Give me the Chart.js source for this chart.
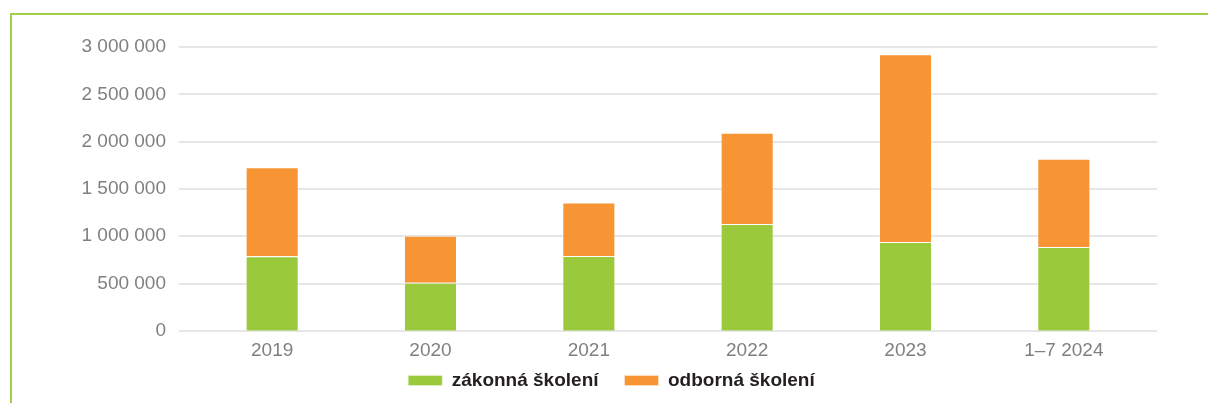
<!DOCTYPE html>
<html>
<head>
<meta charset="utf-8">
<script src="https://cdn.jsdelivr.net/npm/chart.js@4"></script>
<style>
  html, body { margin: 0; padding: 0; background: #fff; }
  #wrap { position: relative; width: 1208px; height: 403px; overflow: hidden; }
  #frame { position: absolute; left: 10px; top: 13px; right: -10px; bottom: -10px;
           border-top: 2px solid #a3d04b; border-left: 2px solid #a3d04b; }
  canvas { position: absolute; left: 0; top: 0; }
</style>
</head>
<body>
<div id="wrap">
  <div id="frame"></div>
  <canvas id="myChart" width="1208" height="403"></canvas>
</div>
<script>
var categories = ["2019", "2020", "2021", "2022", "2023", "1\u20137 2024"];
var zakonna = [787000, 508000, 790000, 1129000, 939000, 886000];
var odborna = [943000, 498000, 566000, 964000, 1985000, 932000];
var yTicks = [0, 500000, 1000000, 1500000, 2000000, 2500000, 3000000];

function spaced(v) {
    return String(v).replace(/\B(?=(\d{3})+(?!\d))/g, " ");
}

// horizontal gridlines a bit wider than the plot, like the original
var gridLines = {
    id: "gridLines",
    beforeDatasetsDraw: function(chart) {
        var ctx = chart.ctx, area = chart.chartArea, y = chart.scales.y;
        ctx.save();
        ctx.strokeStyle = "#dedede";
        ctx.lineWidth = 1.5;
        yTicks.forEach(function(v) {
            var py = Math.round(y.getPixelForValue(v));
            ctx.beginPath();
            ctx.moveTo(area.left - 14, py);
            ctx.lineTo(area.right + 14, py);
            ctx.stroke();
        });
        ctx.restore();
    }
};

var ctx = document.getElementById("myChart").getContext("2d");
var chart = new Chart(ctx, {
    type: "bar",
    data: {
        labels: categories,
        datasets: [{
            label: "zákonná školení",
            data: zakonna,
            backgroundColor: "#9aca3c",
            borderColor: "rgba(255,255,255,0.35)",
            borderWidth: 1
        }, {
            label: "odborná školení",
            data: odborna,
            backgroundColor: "#f79433",
            borderColor: "rgba(255,255,255,0.35)",
            borderWidth: 1
        }]
    },
    plugins: [gridLines],
    options: {
        responsive: false,
        animation: false,
        layout: { padding: { top: 47, right: 65, left: 80, bottom: 3 } },
        datasets: { bar: { barPercentage: 0.335, categoryPercentage: 1 } },
        scales: {
            x: {
                stacked: true,
                grid: { display: false },
                border: { display: false },
                ticks: {
                    color: "#808080",
                    font: { family: "Liberation Sans", size: 19 },
                    padding: 1,
                    maxRotation: 0
                },
                afterFit: function(scale) { scale.height = 31; }
            },
            y: {
                stacked: true,
                min: 0,
                max: 3000000,
                grid: { display: false },
                border: { display: false },
                afterBuildTicks: function(scale) {
                    scale.ticks = yTicks.map(function(v) { return { value: v }; });
                },
                ticks: {
                    color: "#808080",
                    font: { family: "Liberation Sans", size: 19 },
                    padding: 19,
                    callback: function(v) { return spaced(v); }
                },
                afterFit: function(scale) { scale.width = 113; }
            }
        },
        plugins: {
            tooltip: { enabled: false },
            legend: {
                position: "bottom",
                title: { display: true, text: "", font: { size: 1 }, padding: { top: 0, bottom: -18 } },
                labels: {
                    boxWidth: 34,
                    boxHeight: 10,
                    padding: 26,
                    color: "#231f20",
                    font: { family: "Liberation Sans", size: 19, weight: "bold" }
                }
            }
        }
    }
});
</script>
</body>
</html>
